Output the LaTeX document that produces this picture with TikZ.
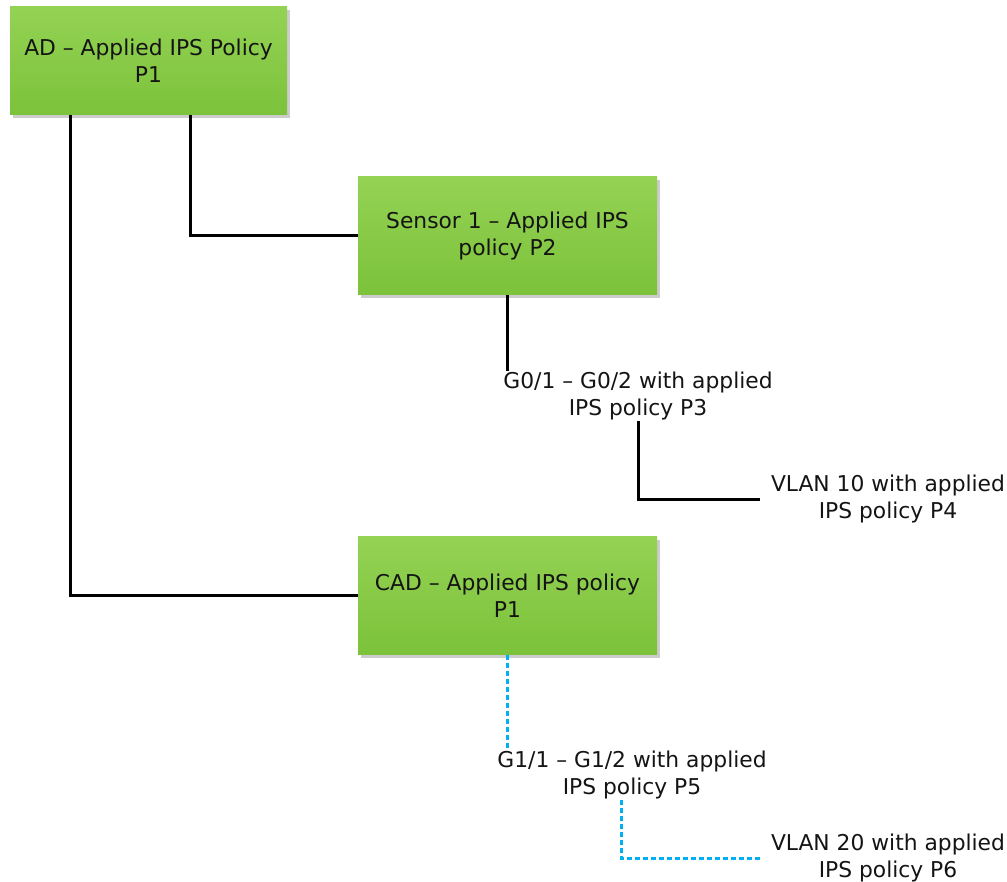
\documentclass[tikz,border=0pt]{standalone}
\usepackage{fontspec}
\setmainfont{DejaVu Sans}
\usetikzlibrary{shadows}
\definecolor{greentop}{RGB}{148,210,84}
\definecolor{greenbot}{RGB}{124,194,58}
\definecolor{linkblue}{RGB}{0,176,240}
\definecolor{txt}{RGB}{20,20,20}
\begin{document}
\begin{tikzpicture}[x=1pt,y=-1pt,
  every node/.style={font=\fontsize{21.8}{27}\selectfont, text=txt, align=center},
  greenbox/.style={draw=none, top color=greentop, bottom color=greenbot,
    minimum width=#1, minimum height=118pt, inner sep=0pt,
    drop shadow={shadow xshift=3pt, shadow yshift=-3pt, opacity=0.2, fill=black}},
  label/.style={inner sep=1pt},
  solidlink/.style={draw=black, line width=3pt},
  dottedlink/.style={draw=linkblue, line width=3pt, dash pattern=on 5pt off 3pt}]
\useasboundingbox (0,0) rectangle (1007,882);
% policy boxes
\node[greenbox=277pt, minimum height=108pt] (ad) at (148.5,61) {AD – Applied IPS Policy\\P1};
\node[greenbox=299pt] (sensor) at (507.5,236) {Sensor 1 – Applied IPS\\policy P2};
\node[greenbox=299pt] (cad) at (507.5,595.5) {CAD – Applied IPS policy\\P1};
% interface and VLAN labels
\node[label] (g0) at (638,396) {G0/1 – G0/2 with applied\\IPS policy P3};
\node[label] (vlan10) at (888,499) {VLAN 10 with applied\\IPS policy P4};
\node[label] (g1) at (632,775) {G1/1 – G1/2 with applied\\IPS policy P5};
\node[label] (vlan20) at (888,858) {VLAN 20 with applied\\IPS policy P6};
% connectors
\coordinate (adA) at (190,115);
\coordinate (adB) at (70,115);
\draw[solidlink] (adA) |- (sensor.west);
\draw[solidlink] (adB) |- (cad.west);
\draw[solidlink] (sensor.south) -- (sensor.south |- g0.north);
\draw[solidlink] (g0.south) |- ([xshift=-10pt]vlan10.west);
\draw[dottedlink] (cad.south) -- (cad.south |- g1.north);
\draw[dottedlink] ([xshift=-11pt]g1.south) |- ([xshift=-10pt]vlan20.west);
\end{tikzpicture}
\end{document}
